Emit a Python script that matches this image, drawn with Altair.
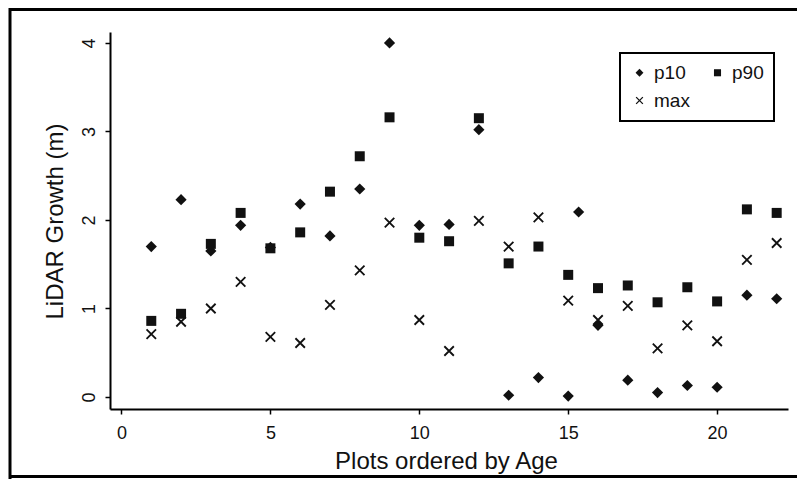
import altair as alt
import pandas as pd

plots = list(range(1, 23))
p10 = [1.70, 2.23, 1.65, 1.94, 1.69, 2.18, 1.82, 2.35, 4.00, 1.94, 1.95, 3.02,
       0.02, 0.22, 0.01, 0.81, 0.19, 0.05, 0.13, 0.11, 1.15, 1.11]
p90 = [0.86, 0.94, 1.73, 2.08, 1.68, 1.86, 2.32, 2.72, 3.16, 1.80, 1.76, 3.15,
       1.51, 1.70, 1.38, 1.23, 1.26, 1.07, 1.24, 1.08, 2.12, 2.08]
maxv = [0.71, 0.85, 1.00, 1.30, 0.68, 0.61, 1.04, 1.43, 1.97, 0.87, 0.52, 1.99,
        1.70, 2.03, 1.09, 0.87, 1.03, 0.55, 0.81, 0.63, 1.55, 1.74]
extra_p10_x = [15.35]
extra_p10_y = [2.09]

series = ["p10", "p90", "max"]

rows = []
for x, a, b, c in zip(plots, p10, p90, maxv):
    rows.append({"plot": x, "value": a, "series": "p10"})
    rows.append({"plot": x, "value": b, "series": "p90"})
    rows.append({"plot": x, "value": c, "series": "max"})
for x, y in zip(extra_p10_x, extra_p10_y):
    rows.append({"plot": x, "value": y, "series": "p10"})
df = pd.DataFrame(rows)

FONT = "Liberation Sans"
INK = "#111111"

# symbol outlines on a unit square (scaled by the mark size)
DIAMOND = "M-1.12,0L0,-1.12L1.12,0L0,1.12Z"
SQUARE = "M-1,-1L1,-1L1,1L-1,1Z"
d = 0.13
CROSS = (f"M{-0.95+d},{-0.95-d}L{0.95+d},{0.95-d}L{0.95-d},{0.95+d}L{-0.95-d},{-0.95+d}Z"
         f"M{0.95+d},{-0.95+d}L{-0.95+d},{0.95+d}L{-0.95-d},{0.95-d}L{0.95-d},{-0.95-d}Z")

points = alt.Chart(df).mark_point(
    filled=True, color=INK, opacity=1, size=100
).encode(
    x=alt.X("plot:Q",
            scale=alt.Scale(domain=[-0.386, 22.38], nice=False, zero=False),
            axis=alt.Axis(values=[0, 5, 10, 15, 20], title="Plots ordered by Age",
                          titleX=336, titleY=59, titleBaseline="alphabetic",
                          labelPadding=10)),
    y=alt.Y("value:Q",
            scale=alt.Scale(domain=[-0.1356, 4.124], nice=False, zero=False),
            axis=alt.Axis(values=[0, 1, 2, 3, 4], title="LiDAR Growth (m)",
                          labelAngle=270, labelAlign="center", labelBaseline="bottom",
                          labelPadding=7,
                          titleAngle=270, titleX=-48, titleY=189,
                          titleAlign="center", titleBaseline="alphabetic")),
    shape=alt.Shape("series:N",
                    scale=alt.Scale(domain=series, range=[DIAMOND, SQUARE, CROSS]),
                    legend=alt.Legend(title=None, orient="none", legendX=510, legendY=21,
                                      direction="horizontal",
                                      columns=2, columnPadding=18, rowPadding=8,
                                      padding=10, strokeColor="black",
                                      symbolSize=50, symbolFillColor=INK,
                                      labelOffset=5,
                                      labelFontSize=19, labelFont=FONT,
                                      labelColor=INK)),
)

frame_df = pd.DataFrame({"k": [0]})
frame_left = alt.Chart(frame_df).mark_rule(color="black", strokeWidth=3).encode(
    x=alt.value(-100), y=alt.value(-40), y2=alt.value(460))
frame_top = alt.Chart(frame_df).mark_rule(color="black", strokeWidth=3).encode(
    x=alt.value(-101), x2=alt.value(720), y=alt.value(-22.5))
frame_bottom = alt.Chart(frame_df).mark_rule(color="black", strokeWidth=3).encode(
    x=alt.value(-101), x2=alt.value(720), y=alt.value(444.5))

chart = alt.layer(frame_left, frame_top, frame_bottom, points).properties(
    width=678, height=377,
    autosize=alt.AutoSizeParams(type="none"),
    padding={"left": 102, "top": 24, "right": 9, "bottom": 70},
    background="white",
).configure_view(
    stroke=None
).configure_axis(
    grid=False,
    domainColor="black", domainWidth=2,
    tickColor="black", tickWidth=1.5, tickSize=5,
    labelFont=FONT, labelFontSize=18, labelColor=INK,
    titleFont=FONT, titleFontSize=24, titleFontWeight="normal", titleColor=INK,
).configure_legend(
    strokeWidth=2
)

chart.save("out.html", embed_options={"renderer": "svg", "actions": False})
